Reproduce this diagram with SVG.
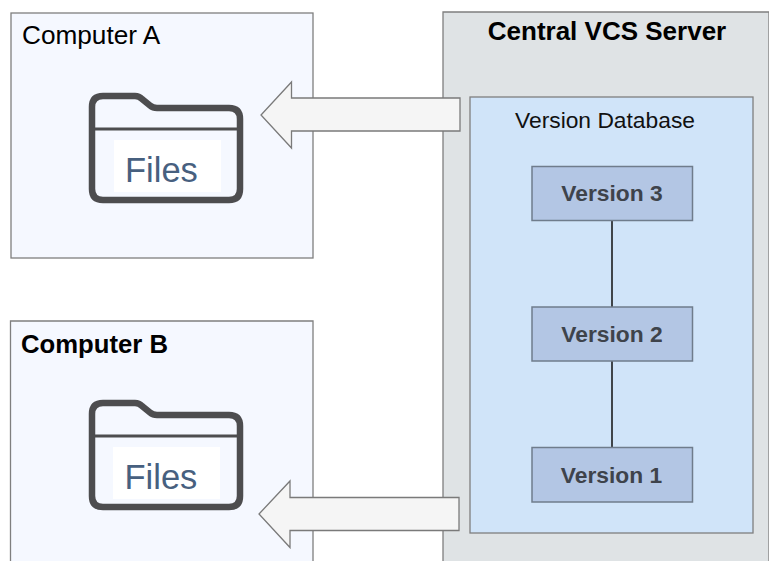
<svg xmlns="http://www.w3.org/2000/svg" width="769" height="561" viewBox="0 0 769 561">
<defs>
<style>
text{font-family:"Liberation Sans",Arial,sans-serif}
.box{stroke:#7f7f7f;stroke-width:1.3}
.computer{fill:#f5f8ff}
.ver rect{fill:#b3c6e4;stroke:#6f7c8c;stroke-width:1.5}
.ver text{font-size:22.8px;font-weight:bold;fill:#3e434b;text-anchor:middle}
.folder{fill:none;stroke:#4d4d4f;stroke-width:6.5;stroke-linejoin:round}
.fline{fill:none;stroke:#4d4d4f;stroke-width:3}
.filebg{fill:#fff}
.filetxt{font-size:34.500px;fill:#47607f}
.arrow{fill:#f5f5f5;stroke:#7a7a7a;stroke-width:1.3}
</style>
</defs>
<rect width="769" height="561" fill="#fff"/>
<g id="computer-a">
<rect class="box computer" x="11" y="13" width="302" height="245"/>
<text x="22" y="44" font-size="26.200">Computer A</text>
<path class="folder" d="M103 96H135Q139 96 142 99L150 105.500Q153 108 157 108H229Q240 108 240 119V189Q240 200 229 200H103Q92 200 92 189V107Q92 96 103 96Z"/>
<path class="fline" d="M92 129H240"/>
<rect class="filebg" x="114" y="140" width="107" height="52"/>
<text class="filetxt" x="125" y="181.500">Files</text>
</g>
<g id="computer-b">
<path class="box computer" d="M10.500 561V321H313V561"/>
<text x="21" y="352.500" font-size="25.700" font-weight="bold">Computer B</text>
<path class="folder" d="M103 403H135Q139 403 142 406L150 412.500Q153 415 157 415H229Q240 415 240 426V496Q240 507 229 507H103Q92 507 92 496V414Q92 403 103 403Z"/>
<path class="fline" d="M92 436H240"/>
<rect class="filebg" x="113" y="447" width="107" height="52"/>
<text class="filetxt" x="124.500" y="488.500">Files</text>
</g>
<g id="central-vcs-server">
<path class="box" fill="#dfe3e5" d="M443 561V12H769V561"/>
<text x="607" y="39.500" font-size="26" font-weight="bold" text-anchor="middle">Central VCS Server</text>
</g>
<g id="version-database">
<rect class="box" fill="#d0e4f9" x="470" y="97" width="283" height="436"/>
<text x="605" y="127.500" font-size="22.800" fill="#111" text-anchor="middle">Version Database</text>
</g>
<g id="connectors">
<path d="M612 220V307M612 361V447" stroke="#111" stroke-width="1.500" fill="none"/>
<path id="arrow-a" class="arrow" d="M460 98V131H291.500V148L261 115L291.500 82V98Z"/>
<path id="arrow-b" class="arrow" d="M459 497.500V530.500H290V547.500L259 514L290 481V497.500Z"/>
</g>
<g id="version-3" class="ver"><rect x="532" y="166.500" width="160.500" height="54"/><text x="612" y="201">Version 3</text></g>
<g id="version-2" class="ver"><rect x="532" y="307" width="160.500" height="54"/><text x="612" y="342">Version 2</text></g>
<g id="version-1" class="ver"><rect x="532" y="447.500" width="160.500" height="54.500"/><text x="611.500" y="482.500">Version 1</text></g>
</svg>
